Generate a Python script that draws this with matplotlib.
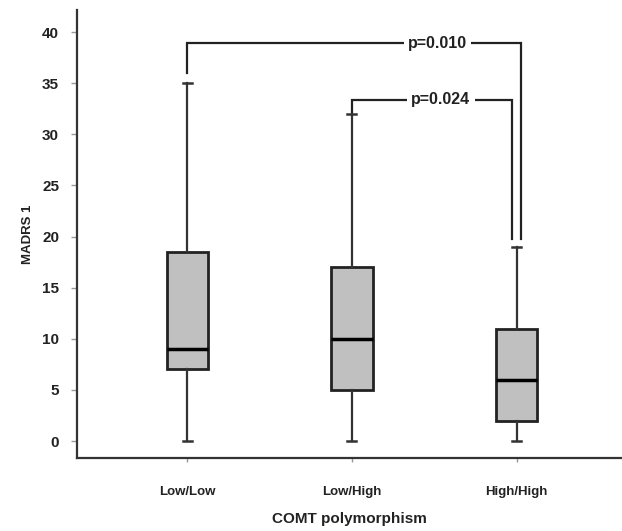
import matplotlib
matplotlib.use('Agg')
import matplotlib.pyplot as plt

plt.rcParams['font.family'] = ['Liberation Sans', 'DejaVu Sans']

# box plot summary values
groups = ['Low/Low', 'Low/High', 'High/High']
whislo = [0, 0, 0]
q1 = [7, 5, 2]
med = [9, 10, 6]
q3 = [18.5, 17, 11]
whishi = [35, 32, 19]

# significance brackets: (left x, right x, bar y, left drop, right drop, label, label x)
brackets = [
    (1.0, 3.025, 38.9, 36.0, 19.8, 'p=0.010', 2.52),
    (2.0, 2.975, 33.4, 32.2, 19.8, 'p=0.024', 2.54),
]

fig = plt.figure(figsize=(6.22, 5.31), dpi=100)
ax = fig.add_axes([0.124, 0.1375, 0.876, 0.8435])

stats = []
for i, g in enumerate(groups):
    stats.append(dict(label=g, whislo=whislo[i], q1=q1[i], med=med[i],
                      q3=q3[i], whishi=whishi[i], fliers=[]))

ax.bxp(stats, positions=[1, 2, 3], widths=0.25, capwidths=0.055,
       showfliers=False, patch_artist=True,
       boxprops=dict(facecolor='#c0c0c0', edgecolor='#222222', linewidth=2),
       medianprops=dict(color='black', linewidth=2.5),
       whiskerprops=dict(color='#333333', linewidth=1.6),
       capprops=dict(color='#333333', linewidth=1.8))

for x0, x1, y, d0, d1, lab, tx in brackets:
    ax.plot([x0, x0, x1, x1], [d0, y, y, d1], color='#222222', lw=1.6,
            solid_joinstyle='miter', zorder=2)
    ax.text(tx, y, lab, ha='center', va='center', fontsize=11.5,
            fontweight='bold', color='#222222', zorder=3,
            bbox=dict(facecolor='white', edgecolor='none', pad=3))

ax.set_xlim(0.331, 3.64)
ax.set_ylim(-1.66, 42.15)
ax.set_yticks(range(0, 41, 5))
ax.set_xticks([1, 2, 3])
ax.set_xticklabels(groups)

for s in ['top', 'right']:
    ax.spines[s].set_visible(False)
for s in ['left', 'bottom']:
    ax.spines[s].set_linewidth(1.6)
    ax.spines[s].set_color('#333333')

ax.tick_params(axis='y', length=4, width=1, color='#999999', pad=9,
               labelsize=11, labelcolor='#222222')
ax.tick_params(axis='x', length=3, width=1, color='#999999', pad=17,
               labelsize=9.5, labelcolor='#222222')
for t in ax.get_xticklabels() + ax.get_yticklabels():
    t.set_fontweight('bold')

ax.set_ylabel('MADRS 1', fontsize=9.5, fontweight='bold', color='#222222', labelpad=6)
ax.set_xlabel('COMT polymorphism', fontsize=11, fontweight='bold', color='#222222', labelpad=10)

fig.savefig('out.png', dpi=100)
